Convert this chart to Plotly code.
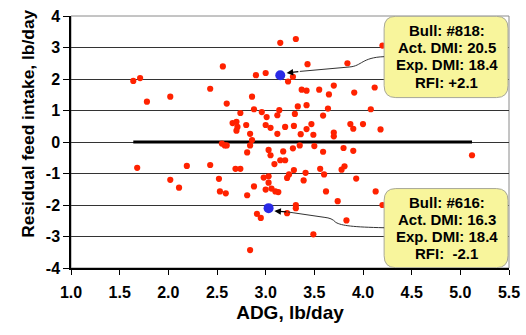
import plotly.graph_objects as go

# ---- data ----
adg = [3.15, 2.56, 1.64, 1.71, 2.90, 3.00, 3.23, 2.43, 1.78, 2.02,
       2.86, 2.60, 2.88, 3.14, 2.74, 2.96, 3.01, 3.12, 2.66, 2.70,
       2.71, 2.70, 2.80, 3.00, 3.05, 3.20, 2.84, 3.12, 2.86, 2.55,
       2.58, 2.60, 2.84, 3.03, 2.81, 3.05, 3.09, 3.15, 3.20, 2.43,
       2.69, 2.74, 2.52, 2.98, 3.03, 3.03, 2.88, 3.00, 3.06, 3.10,
       3.13, 2.53, 2.59, 2.81, 2.91, 2.95, 2.84, 1.68, 2.19, 2.02,
       2.11, 3.18, 3.22, 3.22, 3.24, 3.31, 3.43, 3.84, 3.28, 3.37,
       3.42, 3.55, 3.65, 3.70, 3.91, 3.33, 3.42, 3.64, 3.30, 3.59,
       3.87, 3.90, 4.00, 3.29, 3.42, 3.47, 3.36, 3.49, 3.70, 3.70,
       4.20, 4.12, 4.08, 4.18, 3.28, 3.35, 3.50, 3.80, 3.90, 3.59,
       3.29, 3.41, 3.39, 3.56, 3.60, 3.78, 3.81, 3.93, 3.62, 3.74,
       3.31, 3.31, 3.83, 3.49, 5.12, 4.13, 4.20]
rfi = [3.15, 2.40, 1.94, 2.03, 2.12, 2.19, 1.92, 1.69, 1.28, 1.44,
       1.44, 1.22, 1.04, 1.01, 0.92, 0.95, 0.79, 0.85, 0.60, 0.64,
       0.48, 0.36, 0.54, 0.54, 0.45, 0.48, 0.26, 0.26, 0.06, -0.05,
       -0.11, -0.11, -0.11, -0.25, -0.33, -0.42, -0.70, -0.58, -0.58, -0.73,
       -0.85, -0.85, -1.17, -1.13, -1.09, -1.29, -1.41, -1.51, -1.48, -1.57,
       -1.59, -1.57, -1.63, -1.69, -2.28, -2.41, -3.43, -0.82, -0.76, -1.20,
       -1.45, -0.30, -1.14, -2.26, -1.03, 3.27, 2.47, 2.50, 2.07, 1.66,
       1.63, 1.66, 1.51, 1.79, 1.57, 1.13, 1.17, 1.06, 0.89, 0.84,
       0.57, 0.42, 0.57, 0.51, 0.41, 0.57, 0.25, 0.23, 0.30, 0.18,
       3.06, 1.73, 1.04, 0.40, -0.20, -0.11, -0.13, -0.19, -0.28, -0.31,
       -0.89, -0.98, -1.22, -0.85, -1.03, -0.88, -0.77, -1.16, -1.57, -1.88,
       -2.00, -2.10, -2.49, -2.93, -0.42, -1.57, -2.00]

bull_ids = ["#818", "#616"]
bull_adg = [3.15, 3.03]
bull_rfi = [2.12, -2.10]
bull_act_dmi = ["20.5", "16.3"]
bull_exp_dmi = ["18.4", "18.4"]
bull_rfi_txt = ["+2.1", "\u00a0-2.1"]

x_ticks = [1.0, 1.5, 2.0, 2.5, 3.0, 3.5, 4.0, 4.5, 5.0, 5.5]
y_ticks = [-4, -3, -2, -1, 0, 1, 2, 3, 4]

FONT = "Liberation Sans, Arial, sans-serif"

fig = go.Figure()

# regression (zero) line across the data range
fig.add_trace(go.Scatter(x=[min(adg), max(adg)], y=[0, 0], mode="lines",
                         line=dict(color="black", width=3), hoverinfo="skip",
                         showlegend=False))
fig.add_trace(go.Scatter(x=adg, y=rfi, mode="markers",
                         marker=dict(color="#FF2200", size=6.2, line=dict(width=0)),
                         showlegend=False))
fig.add_trace(go.Scatter(x=bull_adg, y=bull_rfi, mode="markers",
                         marker=dict(color="#2A2AE6", size=10, line=dict(width=0)),
                         showlegend=False))


def rounded_box(x0, x1, y0, y1, rx=0.12, ry=0.38):
    return (f"M {x0+rx},{y1} L {x1-rx},{y1} Q {x1},{y1} {x1},{y1-ry} "
            f"L {x1},{y0+ry} Q {x1},{y0} {x1-rx},{y0} L {x0+rx},{y0} "
            f"Q {x0},{y0} {x0},{y0+ry} L {x0},{y1-ry} Q {x0},{y1} {x0+rx},{y1} Z")


boxes = [(4.217, 5.49, 1.41, 3.99), (4.217, 5.49, -3.99, -1.478)]
text_centers = [2.72, -2.737]
line_step = 0.545
connectors = [
    "M 4.217,2.709 C 3.988,2.684 3.988,2.415 3.865,2.383 L 3.351,2.241",
    "M 4.217,-2.722 C 3.90,-2.70 3.78,-2.66 3.72,-2.55 C 3.69,-2.45 3.66,-2.41 3.60,-2.39 L 3.228,-2.222",
]
arrows = [((3.215, 2.193), (3.351, 2.241)), ((3.089, -2.190), (3.228, -2.222))]

shapes = []
for (x0, x1, y0, y1) in boxes:
    shapes.append(dict(type="path", xref="x", yref="y", path=rounded_box(x0, x1, y0, y1),
                       fillcolor="#F8F59C", line=dict(color="#A8A898", width=1), layer="above"))
for p in connectors:
    shapes.append(dict(type="path", xref="x", yref="y", path=p,
                       line=dict(color="#333333", width=1), layer="above"))
# frame (top/right, gray)
shapes.append(dict(type="rect", xref="paper", yref="paper", x0=0, x1=1, y0=0, y1=1,
                   line=dict(color="#8a8a8a", width=1), fillcolor="rgba(0,0,0,0)", layer="below"))

annotations = []
for i in range(2):
    lines = [f"Bull: {bull_ids[i]}:", f"Act. DMI: {bull_act_dmi[i]}",
             f"Exp. DMI: {bull_exp_dmi[i]}", f"RFI: {bull_rfi_txt[i]}"]
    for k, ln in enumerate(lines):
        yy = text_centers[i] + (1.5 - k) * line_step
        annotations.append(dict(x=4.86, y=yy, xref="x", yref="y", text=f"<b>{ln}</b>",
                                showarrow=False, xanchor="center", yanchor="middle",
                                font=dict(family=FONT, size=15, color="black")))
for (tip, tail) in arrows:
    annotations.append(dict(x=tip[0], y=tip[1], ax=tail[0], ay=tail[1], xref="x", yref="y",
                            axref="x", ayref="y", text="", showarrow=True, arrowhead=2,
                            arrowsize=1.1, arrowwidth=1.2, arrowcolor="black", standoff=0))
# y-axis title
annotations.append(dict(x=-0.1, y=0.573, xref="paper", yref="paper", textangle=-90,
                        text="<b>Residual feed intake, lb/day</b>", showarrow=False,
                        xanchor="center", yanchor="middle",
                        font=dict(family=FONT, size=17.4, color="black")))

fig.update_layout(
    width=526, height=335,
    margin=dict(l=71, r=17, t=16, b=67, autoexpand=False),
    paper_bgcolor="white", plot_bgcolor="white",
    shapes=shapes, annotations=annotations,
    font=dict(family=FONT, color="black"),
)
fig.update_xaxes(range=[1, 5.5], tickvals=x_ticks, ticktext=[f"{v:.1f}" for v in x_ticks],
                 automargin=False,
                 showgrid=False, zeroline=False, showline=True, linecolor="black", linewidth=1.5,
                 ticks="outside", ticklen=5, tickcolor="black", tickwidth=1, ticklabelstandoff=4,
                 tickfont=dict(family=FONT, size=16, weight="bold"),
                 title=dict(text="<b>ADG, lb/day</b>", font=dict(family=FONT, size=19), standoff=6))
fig.update_yaxes(range=[-4, 4], tickvals=y_ticks, ticktext=[str(v) for v in y_ticks],
                 automargin=False,
                 showgrid=True, gridcolor="#333333", gridwidth=1.2, zeroline=False,
                 showline=True, linecolor="black", linewidth=1.5,
                 ticks="outside", ticklen=6, tickcolor="black", tickwidth=1,
                 tickfont=dict(family=FONT, size=16, weight="bold"))

fig.write_html("out.html", config={"displayModeBar": False},
               post_script="document.body.style.margin='0';document.body.style.overflow='hidden';")
